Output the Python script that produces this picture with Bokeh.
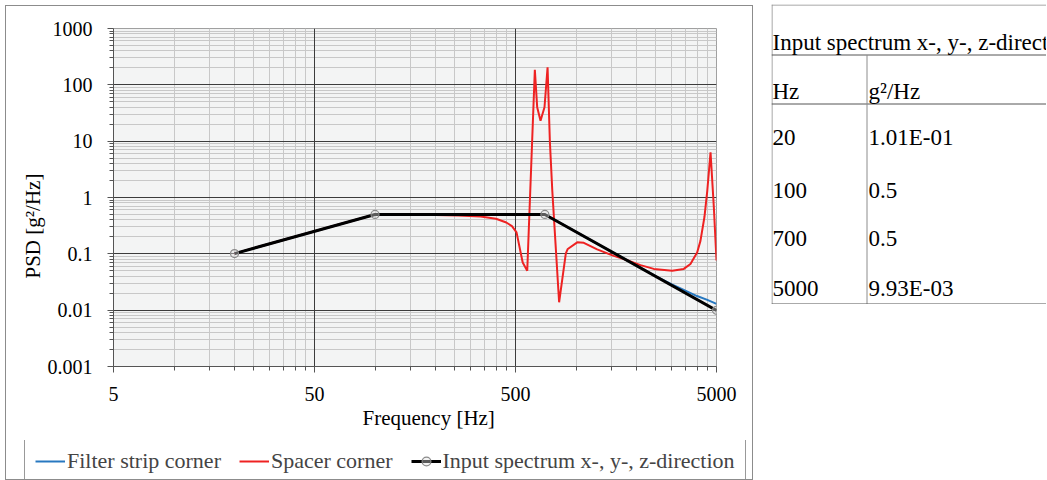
from bokeh.plotting import figure
from bokeh.models import (Range1d, FixedTicker, CustomJSTickFormatter, Legend,
                          LegendItem, InlineStyleSheet, Grid, Title)
from bokeh.layouts import row, column
from bokeh.embed import file_html
from bokeh.resources import INLINE
from bokeh.core.properties import value

FONT = "Liberation Serif"

# ---------------- data ----------------
input_hz = [20, 100, 700, 5000]
input_psd = [0.101, 0.5, 0.5, 0.00993]

filter_hz = [20, 100, 700, 1000, 1500, 2000, 2500, 3000, 3500, 4000, 4500, 5000]
filter_psd = [0.101, 0.5, 0.5, 0.245, 0.109, 0.0615, 0.0398, 0.0288, 0.0222,
              0.0178, 0.0152, 0.0129]

spacer_hz = [20, 50, 100, 150, 200, 260, 335, 400, 450, 480, 506, 543, 572, 624,
             641, 666, 697, 722, 741, 762, 824, 890, 910, 1014, 1094, 1274, 1541,
             1728, 2094, 2438, 3010, 3437, 3710, 4006, 4160, 4355, 4500, 4670,
             4850, 5000]
spacer_psd = [0.101, 0.252, 0.5, 0.5, 0.49, 0.48, 0.46, 0.42, 0.36, 0.31, 0.24,
              0.07, 0.05, 185, 40, 23, 40, 205, 10.2, 1.33, 0.0138, 0.102, 0.122,
              0.16, 0.157, 0.12, 0.092, 0.081, 0.063, 0.054, 0.050, 0.054, 0.066,
              0.106, 0.17, 0.45, 1.33, 6.35, 0.67, 0.076]

x_major = [5, 50, 500, 5000]
y_major = [0.001, 0.01, 0.1, 1, 10, 100, 1000]

x_title = "Frequency [Hz]"
y_title = "PSD [g²/Hz]"
series_names = ["Filter strip corner", "Spacer corner",
                "Input spectrum x-, y-, z-direction"]
table_title = "Input spectrum x-, y-, z-direction"
table_head = ["Hz", "g²/Hz"]

BLUE, RED = "#2878c0", "#ee2222"
BLUE_STYLE = dict(line_color=BLUE, line_width=2)
RED_STYLE = dict(line_color=RED, line_width=2)
BLACK_STYLE = dict(line_color="black", line_width=3)
MARK_STYLE = dict(marker="circle", size=8, line_color="#8a8a8a", line_width=1.2,
                  fill_color="#e0e0e0", fill_alpha=0.4)

# ---------------- chart ----------------
p = figure(width=746, height=434, x_axis_type="log", y_axis_type="log",
           x_range=Range1d(5, 5000), y_range=Range1d(0.001, 1000),
           output_backend="svg", toolbar_location=None,
           min_border_left=107, min_border_right=36, min_border_top=22,
           min_border_bottom=74,
           background_fill_color="#f3f4f4", border_fill_color="white")
p.outline_line_color = "#a0a0a0"

x_minor = [m * k for m in x_major[:-1] for k in range(2, 10)]
y_minor = [k * m for m in y_major[:-1] for k in range(2, 10)]
xt = FixedTicker(ticks=x_major, minor_ticks=x_minor)
yt = FixedTicker(ticks=y_major, minor_ticks=y_minor)
p.xaxis.ticker = xt
p.yaxis.ticker = yt
p.xaxis.formatter = CustomJSTickFormatter(code="return tick.toString();")
p.yaxis.formatter = CustomJSTickFormatter(code="return tick.toString();")

# minor grid first, major grid drawn above it
p.xgrid.ticker = xt
p.ygrid.ticker = yt
for g in (p.xgrid[0], p.ygrid[0]):
    g.grid_line_color = None
    g.minor_grid_line_color = "#c8c8c8"
    g.minor_grid_line_width = 1
p.add_layout(Grid(dimension=0, ticker=xt, grid_line_color="#3c3c3c",
                  grid_line_width=1, minor_grid_line_color=None))
p.add_layout(Grid(dimension=1, ticker=yt, grid_line_color="#3c3c3c",
                  grid_line_width=1, minor_grid_line_color=None))

for ax in (p.xaxis[0], p.yaxis[0]):
    ax.major_label_text_font = FONT
    ax.major_label_text_font_size = "20px"
    ax.major_label_text_color = "black"
    ax.axis_line_color = "#555555"
    ax.major_tick_line_color = "#555555"
    ax.minor_tick_line_color = "#555555"
    ax.major_tick_in = 0
    ax.major_tick_out = 6
    ax.minor_tick_in = 0
    ax.minor_tick_out = 4

p.yaxis.major_label_standoff = 15
p.xaxis.major_label_standoff = 14

p.add_layout(Title(text=y_title, align="left", offset=88, standoff=0,
                   text_font=FONT, text_font_size="21px", text_font_style="normal",
                   text_color="black"), "left")
p.add_layout(Title(text=x_title, align="left", offset=249, standoff=0,
                   text_font=FONT, text_font_size="21px", text_font_style="normal",
                   text_color="black"), "below")

blue = p.line(filter_hz, filter_psd, **BLUE_STYLE)
red = p.line(spacer_hz, spacer_psd, **RED_STYLE)
blk = p.line(input_hz, input_psd, **BLACK_STYLE)
pts = p.scatter(input_hz, input_psd, **MARK_STYLE)

# ---------------- legend strip (below the chart, inside the chart border) ----
# Same series again; the strip's ranges keep them out of view, only the legend shows.
lg = figure(width=746, height=39, x_range=Range1d(0, 1), y_range=Range1d(0, 1),
            output_backend="svg", toolbar_location=None, min_border=0,
            min_border_left=0, min_border_right=0, min_border_top=0,
            min_border_bottom=0, x_axis_location=None, y_axis_location=None)
lg.outline_line_color = None
lg.xgrid.visible = False
lg.ygrid.visible = False
lb = lg.line(filter_hz, filter_psd, **BLUE_STYLE)
lr = lg.line(spacer_hz, spacer_psd, **RED_STYLE)
lk = lg.line(input_hz, input_psd, **BLACK_STYLE)
lp = lg.scatter(input_hz, input_psd, **MARK_STYLE)
legend = Legend(items=[LegendItem(label=series_names[0], renderers=[lb]),
                       LegendItem(label=series_names[1], renderers=[lr]),
                       LegendItem(label=series_names[2], renderers=[lk, lp])],
                orientation="horizontal", location=(18, -6),
                label_text_font=FONT, label_text_font_size="22px",
                label_height=22, glyph_width=30, glyph_height=22,
                label_standoff=2, spacing=18, padding=10, margin=0,
                border_line_color="#333333",
                background_fill_color="white", background_fill_alpha=1)
lg.add_layout(legend)

chart = column(p, row(lg), spacing=0)
chart.margin = (6, 0, 0, 6)
chart.stylesheets = [InlineStyleSheet(css=":host { box-shadow: 0 0 0 1px #8c8c8c; }")]

# ---------------- table ----------------
t = figure(width=275, height=300, x_range=Range1d(0, 275), y_range=Range1d(300, 0),
           output_backend="svg", toolbar_location=None, min_border=0,
           x_axis_location=None, y_axis_location=None)
t.margin = (4, 0, 0, 0)
t.outline_line_color = None
t.xgrid.visible = False
t.ygrid.visible = False

t.segment(x0=[0.5, 0, 0, 0, 95.5, 0], y0=[0, 0.5, 50.5, 99.5, 50.5, 299.5],
          x1=[0.5, 275, 275, 275, 95.5, 275], y1=[300, 0.5, 50.5, 99.5, 299.5, 299.5],
          line_color=["#8c8c8c", "#8c8c8c", "#555555", "#555555", "#8c8c8c", "#555555"],
          line_width=1)


def fmt_psd(v):
    return f"{v:.2E}" if v < 0.2 else f"{v:g}"


row_y = [133, 186, 234, 284]
txt_kw = dict(text_font=value(FONT), text_font_size="23px", text_baseline="middle",
              text_align="left", text_color="black")
t.text(x=[1], y=[38], text=[table_title], **txt_kw)
t.text(x=[1, 97], y=[87, 87], text=table_head, **txt_kw)
t.text(x=[1] * len(input_hz), y=row_y, text=[str(h) for h in input_hz], **txt_kw)
t.text(x=[97] * len(input_psd), y=row_y, text=[fmt_psd(v) for v in input_psd], **txt_kw)

layout = row(chart, t, spacing=19)
open("out.html", "w").write(file_html(layout, INLINE))
